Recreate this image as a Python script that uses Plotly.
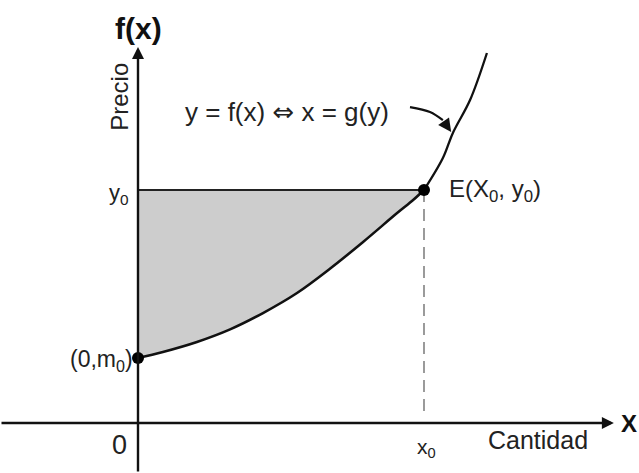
import plotly.graph_objects as go

# ---- data (in diagram units: x0 = 1, y0 = 1) ----
x0 = 1.0
y0 = 1.0
m0 = 0.279

# supply curve y = f(x), lower part (0, m0) -> E(x0, y0)
curve_x_low = [0.0, 0.087, 0.206, 0.322, 0.437, 0.556, 0.671, 0.787, 0.906, 0.962, 1.0]
curve_y_low = [0.279, 0.305, 0.348, 0.402, 0.472, 0.558, 0.662, 0.777, 0.901, 0.957, 1.0]
# upper part beyond E
curve_x_high = [1.0, 1.066, 1.101, 1.161, 1.220]
curve_y_high = [1.0, 1.137, 1.245, 1.386, 1.588]

# small curved pointer from the formula to the curve
pointer_x = [0.951, 1.021, 1.066]
pointer_y = [1.356, 1.335, 1.300]

W, H = 639, 473
px_x, px_y = 286.0, 233.0
ox, oy = 138, 423
xr = [-ox / px_x, (W - ox) / px_x]
yr = [-(H - oy) / px_y, oy / px_y]

FONT = "Liberation Sans, Arial, sans-serif"

fig = go.Figure()

# y0 horizontal line (base for the shaded area)
fig.add_trace(go.Scatter(x=[0, x0], y=[y0, y0], mode="lines",
                         line=dict(color="#222", width=1.8), hoverinfo="skip"))
# lower curve with fill to the y0 line
fig.add_trace(go.Scatter(x=curve_x_low, y=curve_y_low, mode="lines",
                         line=dict(color="#111", width=2.6, shape="spline", smoothing=1.0),
                         fill="tonexty", fillcolor="#cdcdcd", hoverinfo="skip"))
# upper curve
fig.add_trace(go.Scatter(x=curve_x_high, y=curve_y_high, mode="lines",
                         line=dict(color="#111", width=2.3, shape="spline"), hoverinfo="skip"))
# dashed drop line from E
fig.add_trace(go.Scatter(x=[x0, x0], y=[y0, 0.03], mode="lines",
                         line=dict(color="#666", width=1.3, dash="12px,7px"), hoverinfo="skip"))
# pointer curve
fig.add_trace(go.Scatter(x=pointer_x, y=pointer_y, mode="lines",
                         line=dict(color="#111", width=2.2, shape="spline"), hoverinfo="skip"))
# points
fig.add_trace(go.Scatter(x=[0, x0], y=[m0, y0], mode="markers",
                         marker=dict(color="#000", size=12), hoverinfo="skip"))

ann = []
# axes arrows
ann.append(dict(x=1.664, y=0, ax=xr[0], ay=0, xref="x", yref="y", axref="x", ayref="y",
                showarrow=True, arrowhead=2, arrowsize=1.0, arrowwidth=2.4, arrowcolor="#111", text=""))
ann.append(dict(x=0, y=1.614, ax=0, ay=yr[0], xref="x", yref="y", axref="x", ayref="y",
                showarrow=True, arrowhead=2, arrowsize=1.0, arrowwidth=2.4, arrowcolor="#111", text=""))
# pointer arrowhead
ann.append(dict(x=1.095, y=1.249, ax=1.066, ay=1.300, xref="x", yref="y", axref="x", ayref="y",
                showarrow=True, arrowhead=2, arrowsize=1.2, arrowwidth=2.2, arrowcolor="#111", text=""))

def txt(x, y, t, size, xanchor="center", bold=False, angle=0, color="#222"):
    if bold:
        t = "<b>" + t + "</b>"
    ann.append(dict(x=x, y=y, xref="x", yref="y", text=t, showarrow=False,
                    xanchor=xanchor, yanchor="middle", textangle=angle,
                    font=dict(family=FONT, size=size, color=color)))

txt(0, 1.695, "f(x)", 30, bold=True, color="#111")
txt(-0.063, 1.40, "Precio", 24, angle=-90)
txt(0.520, 1.335,
    "y = f(x) <span style='font-family:DejaVu Sans'>⇔</span> x = g(y)", 26)
txt(-0.025, 0.985, "y<sub>0</sub>", 22, xanchor="right")
txt(-0.010, 0.27, "(0,m<sub>0</sub>)", 23, xanchor="right")
txt(1.080, y0, "E(X<sub>0</sub>, y<sub>0</sub>)", 24, xanchor="left")
txt(-0.063, -0.094, "0", 27)
txt(1.01, -0.107, "x<sub>0</sub>", 21)
txt(1.40, -0.073, "Cantidad", 25)
txt(1.716, 0.0, "X", 24, bold=True, color="#111")

fig.update_layout(
    width=W, height=H, margin=dict(l=0, r=0, t=0, b=0),
    paper_bgcolor="white", plot_bgcolor="white", showlegend=False,
    xaxis=dict(range=xr, visible=False, fixedrange=True),
    yaxis=dict(range=yr, visible=False, fixedrange=True),
    annotations=ann,
)

fig.write_html("out.html", config={"displayModeBar": False},
               post_script="document.body.style.margin='0px';document.body.style.overflow='hidden';")
